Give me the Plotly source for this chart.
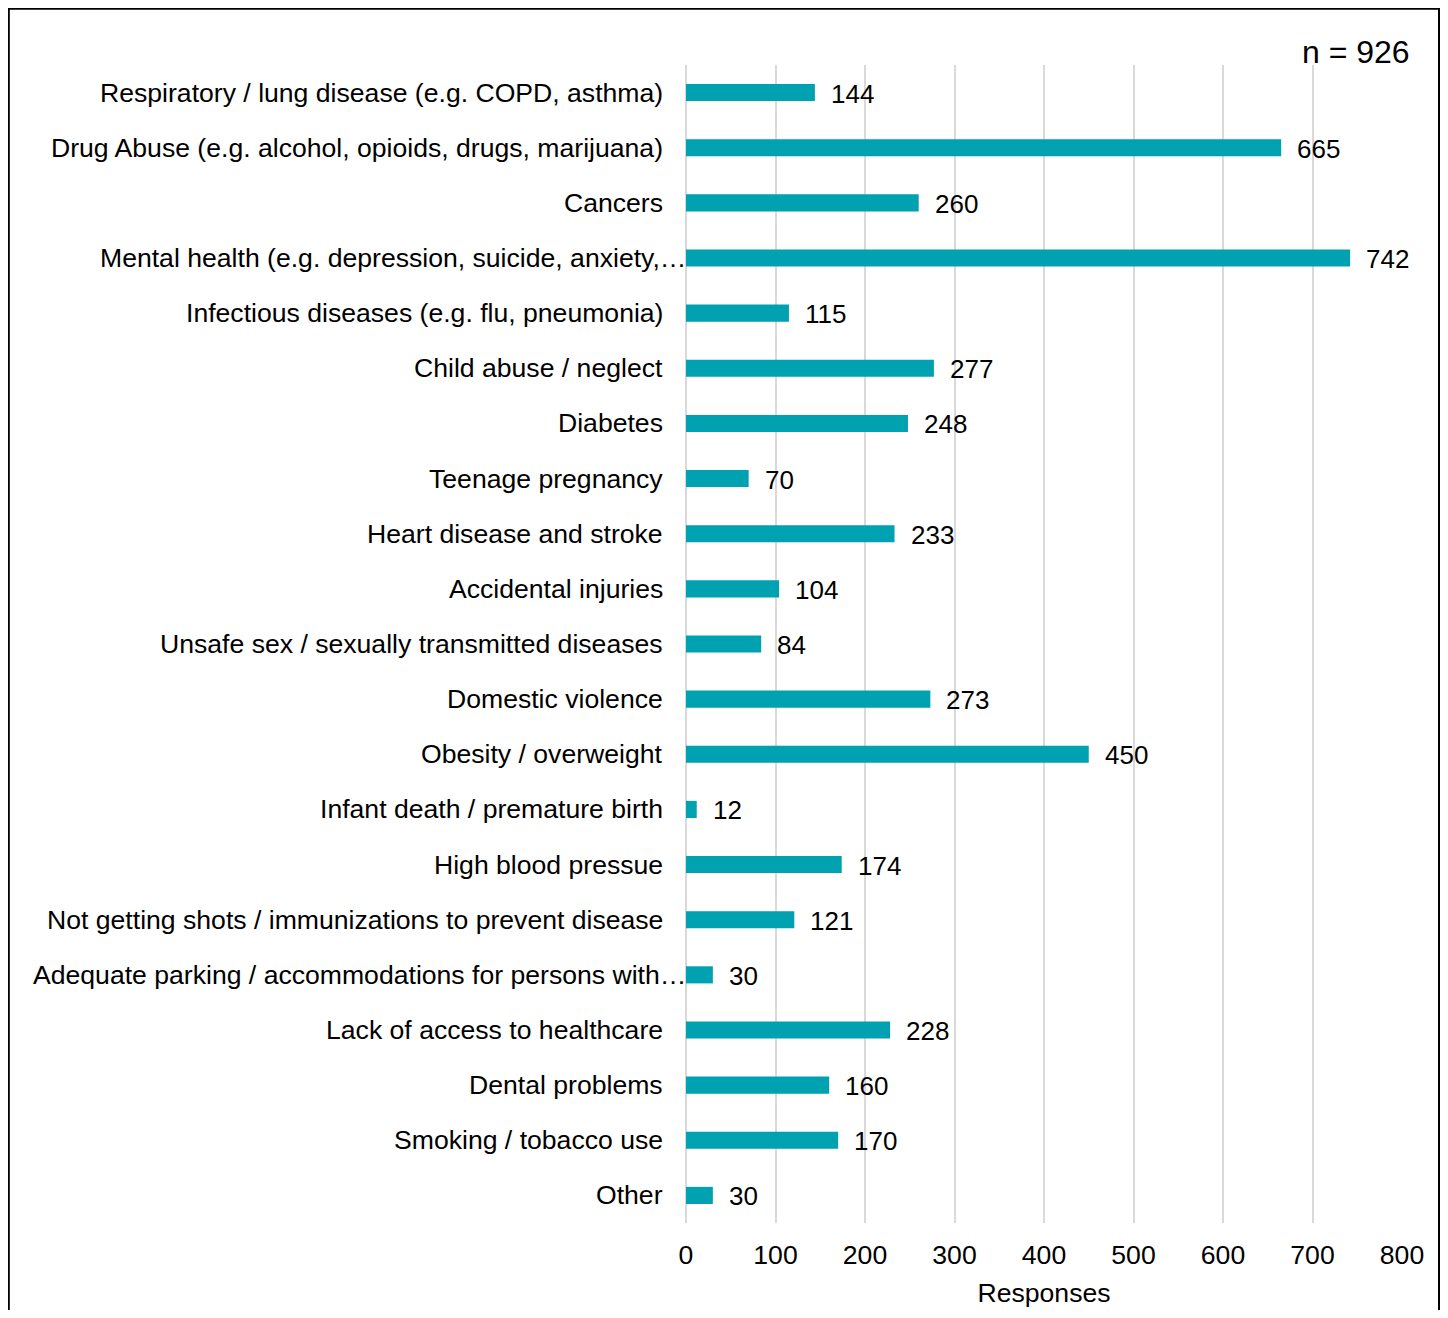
import plotly.graph_objects as go

categories = [
    "Respiratory / lung disease (e.g. COPD, asthma)",
    "Drug Abuse (e.g. alcohol, opioids, drugs, marijuana)",
    "Cancers",
    "Mental health (e.g. depression, suicide, anxiety,…",
    "Infectious diseases (e.g. flu, pneumonia)",
    "Child abuse / neglect",
    "Diabetes",
    "Teenage pregnancy",
    "Heart disease and stroke",
    "Accidental injuries",
    "Unsafe sex / sexually transmitted diseases",
    "Domestic violence",
    "Obesity / overweight",
    "Infant death / premature birth",
    "High blood pressue",
    "Not getting shots / immunizations to prevent disease",
    "Adequate parking / accommodations for persons with…",
    "Lack of access to healthcare",
    "Dental problems",
    "Smoking / tobacco use",
    "Other",
]
responses = [144, 665, 260, 742, 115, 277, 248, 70, 233, 104, 84, 273, 450, 12, 174, 121, 30, 228, 160, 170, 30]
x_ticks = [0, 100, 200, 300, 400, 500, 600, 700, 800]
note_text = "n = 926"

OFF = 8  # page body margin
W, H = 1432, 1302
L = 686 - OFF
T = 65 - OFF
R = W - (1402 - OFF)
B = H - (1223 - OFF)
FONT = "Liberation Sans, Arial, sans-serif"
FS = 26.6
COLOR = "#00A1B0"

fig = go.Figure()
fig.add_trace(go.Bar(
    x=responses, y=categories, orientation="h",
    marker=dict(color=COLOR, line=dict(width=0)),
    width=0.31, showlegend=False, hoverinfo="x+y",
))

# category labels (truncated ones run up to the axis, as in the source)
for c in categories:
    fig.add_annotation(x=0, y=c, xref="paper", yref="y", text=c,
                       showarrow=False, xanchor="right", yanchor="middle",
                       xshift=(2 if c.endswith("…") else -21),
                       font=dict(family=FONT, size=FS, color="#000000"))

# value labels
for c, v in zip(categories, responses):
    fig.add_annotation(x=v, y=c, xref="x", yref="y", text=str(v),
                       showarrow=False, xanchor="left", yanchor="middle",
                       xshift=14, yshift=-1,
                       font=dict(family=FONT, size=26, color="#000000"))

pw = W - L - R
ph = H - T - B
fig.add_annotation(x=1 + ((1412 - OFF) - (W - R)) / pw, y=1 + (T - (52 - OFF)) / ph,
                   xref="paper", yref="paper", text=note_text, showarrow=False,
                   xanchor="right", yanchor="middle",
                   font=dict(family=FONT, size=32, color="#000000"))

# outer border (left, top, right) – bottom edge runs off the page
bx0, bx1, by0 = 0.8, W - 1.0, 0.8
fig.add_shape(type="rect", xref="paper", yref="paper",
              x0=(bx0 - L) / pw, x1=(bx1 - L) / pw,
              y0=-(H + 20 - (H - B)) / ph, y1=1 + (T - by0) / ph,
              line=dict(color="#000000", width=2), fillcolor="rgba(0,0,0,0)", layer="above")

fig.update_layout(
    width=W, height=H, autosize=False,
    margin=dict(l=L, r=R, t=T, b=B, pad=0, autoexpand=False),
    paper_bgcolor="white", plot_bgcolor="white",
    font=dict(family=FONT, size=FS, color="#000000"),
    bargap=0.69,
)
fig.update_xaxes(
    range=[0, 800], tickvals=x_ticks, ticktext=[str(t) for t in x_ticks],
    showgrid=True, gridcolor="#D9D9D9", gridwidth=2,
    zeroline=True, zerolinecolor="#D9D9D9", zerolinewidth=2,
    showline=False, ticks="", ticklabelstandoff=13, automargin=False,
    tickfont=dict(family=FONT, size=FS, color="#000000"),
    title=dict(text="Responses", font=dict(family=FONT, size=FS, color="#000000"), standoff=14),
)
fig.update_yaxes(
    autorange="reversed", showgrid=False, showline=False, ticks="",
    showticklabels=False, automargin=False,
)

fig.write_html("out.html")
